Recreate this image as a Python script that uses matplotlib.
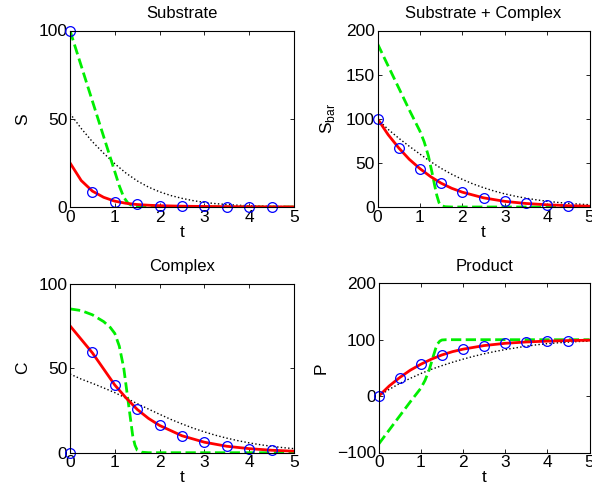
import matplotlib
matplotlib.use('Agg')
import matplotlib.pyplot as plt

plt.rcParams['font.family'] = ['Liberation Sans', 'DejaVu Sans']
plt.rcParams['font.size'] = 12.5
plt.rcParams['mathtext.fontset'] = 'custom'
plt.rcParams['mathtext.rm'] = 'Liberation Sans'

# numerical solution (circles)
t_num = [0, 0.5, 1.0, 1.5, 2.0, 2.5, 3.0, 3.5, 4.0, 4.5]
S_num = [100, 8.3, 3.1, 1.5, 0.8, 0.45, 0.3, 0.2, 0.1, 0.1]
Sbar_num = [100, 67.3, 43.3, 26.8, 16.8, 10.4, 6.4, 4.0, 2.5, 1.5]
C_num = [0, 59.3, 40.1, 25.6, 16.2, 10.0, 6.2, 3.9, 2.4, 1.4]
P_num = [0, 32.7, 56.7, 73.2, 83.2, 89.6, 93.6, 96.0, 97.5, 98.5]

# red solid
t_red = [0, 0.25, 0.5, 0.75, 1.0, 1.25, 1.5, 1.75, 2.0, 2.5, 3.0, 3.5, 4.0, 4.5, 5.0]
S_red = [25, 15, 9, 5.5, 3.3, 2.1, 1.4, 1.0, 0.75, 0.45, 0.3, 0.2, 0.12, 0.08, 0.05]
Sbar_red = [100, 82, 67, 54, 43.5, 34.5, 27, 21.2, 16.8, 10.4, 6.4, 4.0, 2.5, 1.5, 0.9]
C_red = [75, 67, 59, 49.5, 40, 32.4, 25.6, 20.3, 16.1, 10.0, 6.2, 3.8, 2.4, 1.45, 0.9]
P_red = [0, 18, 33, 46, 56.5, 65.5, 73, 78.8, 83.2, 89.6, 93.6, 96, 97.5, 98.5, 99.1]

# green dashed
t_gS = [0, 0.25, 0.5, 0.75, 1.0, 1.1, 1.2, 1.3, 1.4, 1.5, 1.75, 5]
S_green = [100, 80, 60, 40, 20, 12, 5.5, 2, 0.6, 0.2, 0, 0]
t_gSbar = [0, 0.25, 0.5, 0.75, 1.0, 1.1, 1.2, 1.3, 1.35, 1.4, 1.45, 1.5, 1.6, 1.75, 5]
Sbar_green = [185, 160, 135, 110, 86, 74, 58, 36, 24, 13, 5, 1.5, 0.3, 0, 0]
t_gC = [0, 0.25, 0.5, 0.75, 0.9, 1.0, 1.1, 1.2, 1.3, 1.35, 1.4, 1.45, 1.5, 1.6, 1.75, 5]
C_green = [85, 84, 81.5, 77.5, 74, 70.5, 63, 50, 30, 20, 10, 4.5, 1.5, 0.3, 0, 0]
t_gP = [0, 0.25, 0.5, 0.75, 1.0, 1.1, 1.2, 1.3, 1.35, 1.4, 1.45, 1.5, 1.6, 5]
P_green = [-85, -60, -35, -10, 14, 28, 47, 72, 84, 93, 97.5, 99.5, 100, 100]

# black dotted
t_dot = [0, 0.25, 0.5, 0.75, 1.0, 1.25, 1.5, 1.75, 2.0, 2.25, 2.5, 2.75,
         3.0, 3.25, 3.5, 3.75, 4.0, 4.25, 4.5, 4.75, 5.0]
S_dot = [53, 44.5, 37, 30.5, 24.5, 19.2, 14.8, 11.3, 8.6, 6.5, 4.9, 3.6,
         2.6, 1.9, 1.4, 1.0, 0.7, 0.5, 0.35, 0.25, 0.2]
Sbar_dot = [99.5, 88, 78, 68.8, 60, 51.5, 43.8, 37.1, 31.3, 26.2, 21.9, 18.1,
            14.9, 12.2, 10, 8.1, 6.5, 5.2, 4.15, 3.25, 2.6]
C_dot = [46.5, 43.5, 41, 38.3, 35.5, 32.3, 29, 25.8, 22.7, 19.7, 17, 14.5,
         12.3, 10.3, 8.6, 7.1, 5.8, 4.7, 3.8, 3.0, 2.4]
P_dot = [0, 12, 22.5, 31.5, 40, 47.5, 54, 60, 65.5, 70.5, 75, 79,
         82.5, 85.5, 88.5, 91, 93, 94.5, 95.8, 96.8, 97.5]

panels = [
    ('Substrate', 'S', (0, 100), [0, 50, 100],
     S_num, S_red, t_gS, S_green, S_dot, [70, 207, 294, 30.5]),
    ('Substrate + Complex', r'S$_{\mathrm{bar}}$', (0, 200), [0, 50, 100, 150, 200],
     Sbar_num, Sbar_red, t_gSbar, Sbar_green, Sbar_dot, [377.5, 207, 589.5, 30.5]),
    ('Complex', 'C', (0, 100), [0, 50, 100],
     C_num, C_red, t_gC, C_green, C_dot, [70, 452.7, 294, 283.5]),
    ('Product', 'P', (-100, 200), [-100, 0, 100, 200],
     P_num, P_red, t_gP, P_green, P_dot, [378.7, 452.5, 589.5, 283.3]),
]

W, H = 592, 500
fig = plt.figure(figsize=(W / 100, H / 100), dpi=100)

for title, ylab, ylim, yticks, ynum, yred, tg, yg, ydot, box in panels:
    x0, yb, x1, yt = box
    ax = fig.add_axes([x0 / W, 1 - yb / H, (x1 - x0) / W, (yb - yt) / H])
    ax.plot(t_dot, ydot, ':', color='black', lw=1)
    ax.plot(tg, yg, '--', color='#00ee00', lw=2)
    ax.plot(t_red, yred, '-', color='red', lw=2)
    ax.plot(t_num, ynum, 'o', color='blue', mfc='none', ms=7, mew=0.9, clip_on=False)
    ax.set_xlim(0, 5)
    ax.set_ylim(*ylim)
    ax.set_xticks([0, 1, 2, 3, 4, 5])
    ax.set_yticks(yticks)
    ax.tick_params(direction='in', top=True, right=True, length=3, width=0.6, pad=2)
    for sp in ax.spines.values():
        sp.set_linewidth(0.8)
    ax.set_title(title, fontsize=12, pad=9)
    ax.set_xlabel('t', labelpad=0)
    ax.set_ylabel(ylab, labelpad=6)

plt.savefig('out.png')
